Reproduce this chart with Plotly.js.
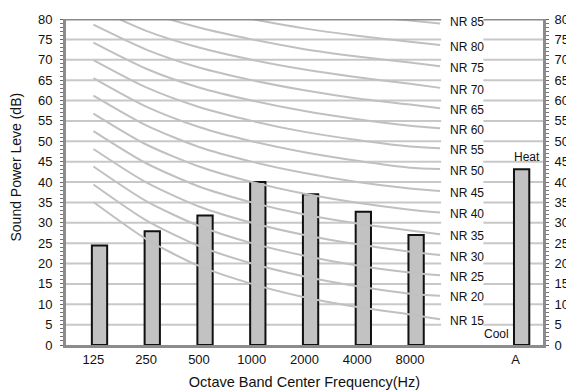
<!DOCTYPE html>
<html><head><meta charset="utf-8">
<script src="https://cdn.plot.ly/plotly-3.0.1.min.js"></script>
<style>html,body{margin:0;padding:0;background:#fff}#chart{width:566px;height:390px}</style>
</head><body><div id="chart"></div>
<script>
// ---- data ----
const bands = ['125', '250', '500', '1000', '2000', '4000', '8000'];
const bandLevels = [24.4, 27.9, 31.8, 40.0, 37.0, 32.7, 27.0];
const overallLabel = 'A';
const overallLevel = 43.1;
const heatText = 'Heat';
const coolText = 'Cool';

// NR curves: values at 125..8000 Hz, then the value where the curve ends (before its label)
const nrNames = ['NR 15','NR 20','NR 25','NR 30','NR 35','NR 40','NR 45','NR 50','NR 55','NR 60','NR 65','NR 70','NR 75','NR 80','NR 85'];
const nr15 = [35.1, 26.0, 19.4, 15.0, 11.7, 9.3, 7.5, 6.3];
const nr20 = [39.4, 30.6, 24.3, 20.0, 16.8, 14.4, 12.6, 12.1];
const nr25 = [43.8, 35.3, 29.2, 25.0, 21.9, 19.5, 17.8, 17.1];
const nr30 = [48.1, 39.9, 34.0, 30.0, 27.0, 24.7, 22.9, 22.1];
const nr35 = [52.5, 44.6, 38.9, 35.0, 32.0, 29.8, 28.1, 27.2];
const nr40 = [56.8, 49.2, 43.8, 40.0, 37.1, 34.9, 33.2, 32.5];
const nr45 = [61.2, 53.9, 48.6, 45.0, 42.2, 40.0, 38.4, 37.8];
const nr50 = [65.5, 58.5, 53.5, 50.0, 47.3, 45.2, 43.5, 43.2];
const nr55 = [69.9, 63.2, 58.4, 55.0, 52.3, 50.3, 48.7, 48.3];
const nr60 = [74.2, 67.8, 63.2, 60.0, 57.4, 55.4, 53.8, 53.2];
const nr65 = [78.6, 72.5, 68.1, 65.0, 62.5, 60.5, 59.0, 58.1];
const nr70 = [82.9, 77.1, 73.0, 70.0, 67.6, 65.7, 64.1, 63.1];
const nr75 = [87.3, 81.8, 77.9, 75.0, 72.6, 70.8, 69.3, 68.4];
const nr80 = [91.6, 86.4, 82.7, 80.0, 77.7, 75.9, 74.4, 73.6];
const nr85 = [96.0, 91.1, 87.6, 85.0, 82.8, 81.0, 79.6, 78.9];
const nrLabelLevels = [5.9, 11.7, 16.6, 21.7, 26.8, 32.1, 37.4, 42.8, 47.9, 52.8, 57.7, 62.7, 68.0, 73.1, 79.2];
const yTicks = [0,5,10,15,20,25,30,35,40,45,50,55,60,65,70,75,80];

// ---- layout constants ----
const NARROW = '"Liberation Sans Narrow", "Arial Narrow", "Liberation Sans", Arial, sans-serif';
const REG = '"Liberation Sans", Arial, sans-serif';
const curveEndX = 6.57;   // where the NR curves stop
const gapStart = 6.59, gapEnd = 7.39; // label column
const labelX = 6.72;
const aX = 8;
const xRange = [-0.52, 8.52];

const nrSeries = [nr15,nr20,nr25,nr30,nr35,nr40,nr45,nr50,nr55,nr60,nr65,nr70,nr75,nr80,nr85];
const curveXs = bands.map((b, i) => i).concat([curveEndX]);

const traces = [];
traces.push({
  type: 'bar',
  x: bands.map((b, i) => i).concat([aX]),
  y: bandLevels.concat([overallLevel]),
  width: 0.29, offset: -0.03,
  marker: {
    color: '#c8c8c8',
    line: {color: '#111', width: 2},
    pattern: {shape: '.', size: 2, solidity: 0.5, fgcolor: '#9a9a9a', bgcolor: '#e2e2e2'}
  },
  hoverinfo: 'skip', showlegend: false
});
nrSeries.forEach((vals, k) => {
  traces.push({
    type: 'scatter', mode: 'lines',
    x: curveXs, y: vals, name: nrNames[k],
    line: {color: '#c0c0c0', width: 2, shape: 'spline', smoothing: 0.7},
    hoverinfo: 'skip', showlegend: false
  });
});
// dummy trace to create the right-hand axis
traces.push({type: 'scatter', x: [null], y: [null], yaxis: 'y2', showlegend: false, hoverinfo: 'skip'});

const shapes = [];
yTicks.forEach(v => {
  if (v === 0) return;
  const top = v === 80;
  const ln = top ? {color: '#8a8a8a', width: 3} : {color: '#c8c8c8', width: 2};
  const layer = top ? 'above' : 'below';
  shapes.push({type: 'line', xref: 'x', yref: 'y', x0: xRange[0], x1: gapStart, y0: v, y1: v, line: ln, layer: layer});
  shapes.push({type: 'line', xref: 'x', yref: 'y', x0: gapEnd, x1: xRange[1], y0: v, y1: v, line: ln, layer: layer});
});

const annotations = [];
nrNames.forEach((n, k) => {
  annotations.push({x: labelX, y: nrLabelLevels[k], xref: 'x', yref: 'y', text: n, showarrow: false,
    xanchor: 'left', yanchor: 'middle', font: {family: NARROW, size: 12, color: '#111'}});
});
annotations.push({x: 8.22, y: 46.1, xref: 'x', yref: 'y', text: heatText, showarrow: false,
  xanchor: 'center', yanchor: 'middle', font: {family: NARROW, size: 12, color: '#111'}});
annotations.push({x: 7.63, y: 2.7, xref: 'x', yref: 'y', text: coolText, showarrow: false,
  xanchor: 'center', yanchor: 'middle', font: {family: NARROW, size: 12, color: '#111'}});
annotations.push({x: (16 - 66) / 477, y: 1 - (167.5 - 19) / 326, xref: 'paper', yref: 'paper',
  xanchor: 'center', yanchor: 'middle',
  text: 'Sound Power Leve (dB)', textangle: -90, showarrow: false,
  font: {family: REG, size: 14, color: '#111'}});

const yCommon = {
  range: [0, 80], tickvals: yTicks, ticktext: yTicks.map(String),
  showgrid: false, zeroline: false, showline: true, linewidth: 3, linecolor: '#8c8c8c',
  ticks: 'outside', ticklen: 3, tickwidth: 1, tickcolor: '#666',
  minor: {dtick: 1, tick0: 0, ticks: 'outside', ticklen: 3, tickwidth: 1, tickcolor: '#777', showgrid: false},
  tickfont: {family: NARROW, size: 13, color: '#111'}, ticklabelstandoff: 5, fixedrange: true
};

const layout = {
  width: 566, height: 390,
  margin: {l: 66, r: 23, t: 19, b: 45, pad: 0},
  paper_bgcolor: '#fff', plot_bgcolor: '#fff',
  showlegend: false, bargap: 0,
  xaxis: {
    range: xRange, tickvals: bands.map((b, i) => i).concat([aX]), ticktext: bands.concat([overallLabel]),
    showgrid: false, zeroline: false, showline: true, linewidth: 3, linecolor: '#8c8c8c', ticks: '',
    tickfont: {family: NARROW, size: 13, color: '#111'}, ticklabelstandoff: 0,
    title: {text: 'Octave Band Center Frequency(Hz)', font: {family: NARROW, size: 14.5, color: '#111'}, standoff: 14}
  },
  yaxis: Object.assign({}, yCommon),
  yaxis2: Object.assign({}, yCommon, {overlaying: 'y', side: 'right', ticklabelstandoff: 3}),
  shapes: shapes,
  annotations: annotations
};

Plotly.newPlot('chart', traces, layout, {staticPlot: true, displayModeBar: false});
</script>
</body></html>
